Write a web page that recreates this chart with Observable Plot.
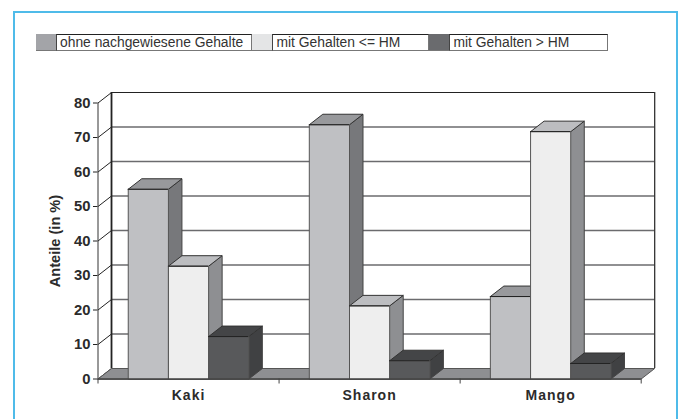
<!DOCTYPE html>
<html><head><meta charset="utf-8">
<script src="https://cdn.jsdelivr.net/npm/d3@7"></script>
<script src="https://cdn.jsdelivr.net/npm/@observablehq/plot@0.6"></script>
<style>
html,body{margin:0;padding:0;background:#fff;overflow:hidden}
#page{position:relative;width:678px;height:419px;overflow:hidden;font-family:"Liberation Sans",Arial,sans-serif}
#frame{position:absolute;left:13px;top:11px;width:661px;height:420px;border:2px solid #4fbbe9;box-sizing:content-box;pointer-events:none}
#legend{position:absolute;left:35.5px;top:34px;display:flex;height:17px}
.sw{width:20px;height:17px;box-sizing:border-box;border-bottom:1px solid #777}
.lb{height:17px;box-sizing:border-box;border:1px solid #777;border-top-color:#222;border-left-color:#444;font-size:13.85px;line-height:15px;padding-left:3.5px;color:#333;white-space:nowrap;background:#fff}
#chart{position:absolute;left:0;top:60px}
svg{display:block;background:transparent}
.catlabel text{letter-spacing:1px}
</style></head>
<body><div id="page"><div id="frame"></div><div id="legend"></div><div id="chart"></div></div>
<script>
const categories = ["Kaki", "Sharon", "Mango"];
const seriesNames = ["ohne nachgewiesene Gehalte", "mit Gehalten <= HM", "mit Gehalten > HM"];
const ohne = [55, 73.7, 23.9];
const mitLe = [32.7, 21.2, 71.7];
const mitGt = [12.3, 5.3, 4.5];
const seriesValues = [ohne, mitLe, mitGt];
const yTicks = [0, 10, 20, 30, 40, 50, 60, 70, 80];
const legendSwatch = ["#a3a4a8", "#e4e5e6", "#6a6b6e"];
const frontFill = ["#bfc0c3", "#eeeeee", "#58595b"];
const topFill = ["#98999c", "#bcbdc0", "#444547"];
const sideFill = ["#77787b", "#8e8f92", "#404143"];
const labelWidths = [196.5, 157, 158.5];

const legend = document.getElementById("legend");
seriesNames.forEach((n, i) => {
  const s = document.createElement("div"); s.className = "sw"; s.style.background = legendSwatch[i]; legend.appendChild(s);
  const l = document.createElement("div"); l.className = "lb"; l.style.width = labelWidths[i] + "px"; l.textContent = n; legend.appendChild(l);
});

// 3D depth expressed in data units
const depthX = 0.0746, depthY = 3.04;
const barW = 0.222, pad = 0.167;

const poly = (pts, fill, stroke, strokeWidth = 1) =>
  Plot.line(pts, {x: d => d[0], y: d => d[1], fill, stroke, strokeWidth, curve: "linear-closed"});

const floor = poly([[0, 0], [depthX, depthY], [3 + depthX, depthY], [3, 0]], "#8e8f92", "#555");

const bars = [];
categories.forEach((c, ci) => {
  seriesValues.forEach((vals, si) => {
    const x0 = ci + pad + si * barW, x1 = x0 + barW, v = vals[ci];
    bars.push(poly([[x1, 0], [x1 + depthX, depthY], [x1 + depthX, v + depthY], [x1, v]], sideFill[si], "#444"));
    bars.push(poly([[x0, v], [x0 + depthX, v + depthY], [x1 + depthX, v + depthY], [x1, v]], topFill[si], "#333"));
    bars.push(poly([[x0, 0], [x0, v], [x1, v], [x1, 0]], frontFill[si], "#555"));
    bars.push(Plot.ruleY([v], {x1: x0, x2: x1, stroke: "#222", strokeWidth: 1}));
  });
});

const plot = Plot.plot({
  width: 678, height: 359,
  marginLeft: 97.5, marginRight: 37.3, marginTop: 42.5, marginBottom: 40.5,
  x: {domain: [0, 3]},
  y: {domain: [0, 80]},
  style: {fontFamily: '"Liberation Sans",Arial,sans-serif', background: "transparent", overflow: "visible"},
  marks: [
    // back wall grid
    Plot.ruleY(yTicks.slice(1, -1), {y: d => d + depthY, x1: depthX, x2: 3 + depthX, stroke: "#6b6b6e", strokeWidth: 1.4}),
    Plot.ruleY([80 + depthY], {x1: depthX, x2: 3 + depthX, stroke: "#222", strokeWidth: 1.2}),
    Plot.ruleX([3 + depthX], {y1: depthY, y2: 80 + depthY, stroke: "#222", strokeWidth: 1.2}),
    // side wall diagonals
    Plot.link(yTicks, {x1: 0, y1: d => d, x2: depthX, y2: d => d + depthY, stroke: "#222", strokeWidth: 1}),
    Plot.ruleX([depthX], {y1: depthY, y2: 80 + depthY, stroke: "#222", strokeWidth: 1.8}),
    floor,
    ...bars,
    Plot.ruleX([0], {y1: 0, y2: 80, stroke: "#333", strokeWidth: 1}),
    Plot.ruleY([0], {x1: 0, x2: 3, stroke: "#444", strokeWidth: 1.4}),
    Plot.axisY({ticks: yTicks, tickSize: 4.5, tickPadding: 3, stroke: "#222",
      fontSize: 14.8, fontWeight: "bold", fill: "#2b2b2b", label: null}),
    Plot.axisX({ticks: [0, 1, 2, 3], tickSize: 5, tickFormat: () => "", stroke: "#444", label: null}),
    Plot.text(categories, {x: (d, i) => i + 0.5, y: 0, dy: 17, dx: 0, text: d => d, fontSize: 14, fontWeight: "bold",
      fill: "#2b2b2b", className: "catlabel"}),
    Plot.text(["Anteile (in %)"], {frameAnchor: "left", dx: -42.5, y: 40, text: d => d, rotate: -90, fontSize: 14.6, fontWeight: "bold", fill: "#2b2b2b", textAnchor: "middle"})
  ]
});
document.getElementById("chart").appendChild(plot);
</script></body></html>
